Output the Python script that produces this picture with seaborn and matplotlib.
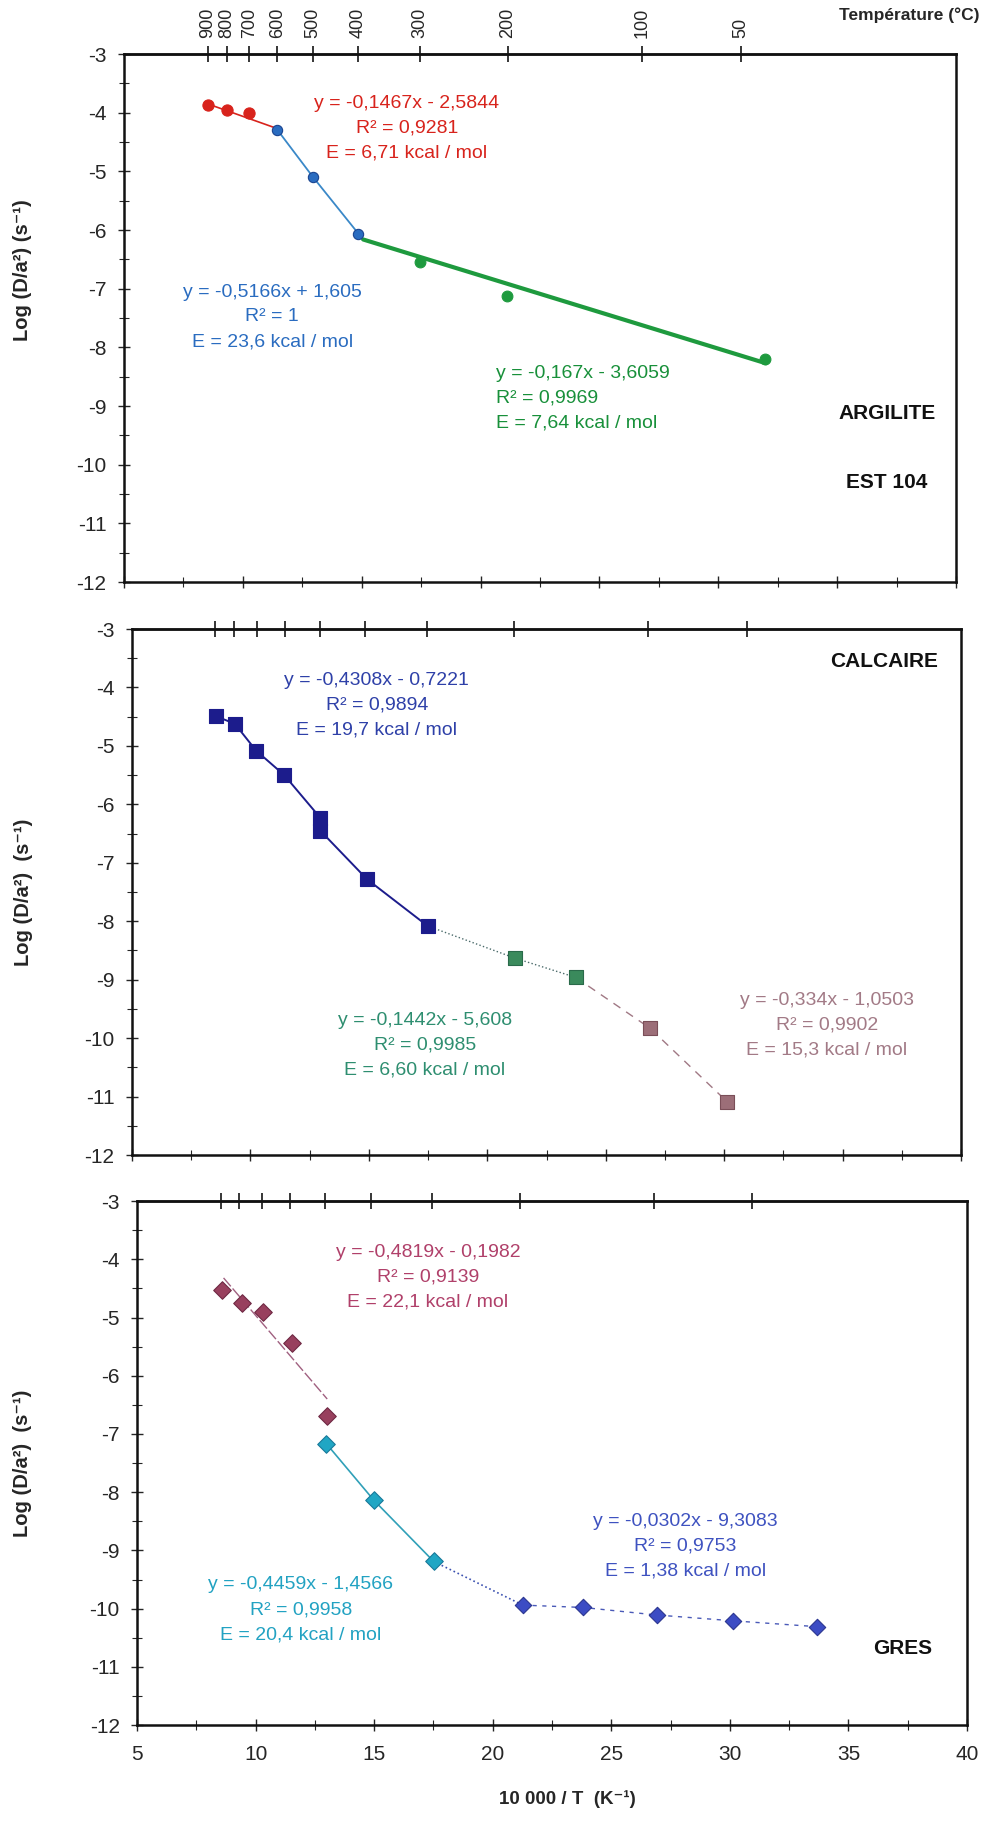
import matplotlib
matplotlib.use('Agg')
import matplotlib.pyplot as plt
from matplotlib.ticker import MultipleLocator
import seaborn as sns

# --- donnees (x = 10000/T en K-1, y = log(D/a2)) ---
temp_c = [900, 800, 700, 600, 500, 400, 300, 200, 100, 50]

# ARGILITE EST 104
arg_red_x = [8.53, 9.32, 10.28]
arg_red_y = [-3.86, -3.96, -4.01]
arg_blue_x = [11.45, 12.94, 14.86]
arg_blue_y = [-4.29, -5.09, -6.06]
arg_green_x = [17.45, 21.13, 31.95]
arg_green_y = [-6.54, -7.12, -8.20]
arg_red_fit_x = [8.53, 11.45]
arg_red_fit_y = [-3.85, -4.27]
arg_green_fit_x = [15.06, 32.0]
arg_green_fit_y = [-6.16, -8.27]

# CALCAIRE
cal_blue_x = [8.53, 9.34, 10.24, 11.43, 12.95, 12.95, 14.92, 17.48]
cal_blue_y = [-4.49, -4.62, -5.08, -5.50, -6.23, -6.45, -7.28, -8.08]
cal_green_x = [21.16, 23.73]
cal_green_y = [-8.63, -8.96]
cal_mauve_x = [26.87, 30.13]
cal_mauve_y = [-9.83, -11.09]

# GRES
gres_mauve_x = [8.57, 9.41, 10.30, 11.52, 13.03]
gres_mauve_y = [-4.53, -4.75, -4.90, -5.44, -6.70]
gres_mauve_fit_x = [8.65, 13.02]
gres_mauve_fit_y = [-4.32, -6.40]
gres_cyan_x = [12.99, 14.99, 17.51]
gres_cyan_y = [-7.17, -8.14, -9.19]
gres_blue_x = [21.27, 23.80, 26.92, 30.15, 33.66]
gres_blue_y = [-9.94, -9.98, -10.11, -10.21, -10.31]

sns.set_style('ticks')
plt.rcParams['font.family'] = ['Liberation Sans', 'DejaVu Sans']
plt.rcParams['axes.unicode_minus'] = False

fig = plt.figure(figsize=(9.87, 18.27), dpi=100)

# positions des trois panneaux (le scan est legerement de travers)
panels = [
    [0.1256, 0.6814, 0.843, 0.289],
    [0.1337, 0.3678, 0.840, 0.2879],
    [0.1388, 0.0558, 0.841, 0.2868],
]
axes = [fig.add_axes(p) for p in panels]
ylabels = ['Log (D/a²) (s⁻¹)', 'Log (D/a²)  (s⁻¹)', 'Log (D/a²)  (s⁻¹)']
ylabel_y = [0.59, 0.5, 0.5]


def line(ax, xs, ys, color, lw=1.2, ls='-'):
    sns.lineplot(x=xs, y=ys, color=color, linewidth=lw, linestyle=ls,
                 sort=False, estimator=None, ax=ax, zorder=2)


def points(ax, xs, ys, color, marker, s, ec=None):
    sns.scatterplot(x=xs, y=ys, color=color, marker=marker, s=s,
                    edgecolor=ec if ec else color, linewidth=0.8, ax=ax, zorder=3)


def note(ax, x, y, lines, color, ha='center'):
    ax.text(x, y, '\n'.join(lines), color=color, ha=ha, va='center',
            fontsize=14, linespacing=1.6)


def k_to_c(x):
    return 10000.0 / x - 273.15


def c_to_k(c):
    return 10000.0 / (c + 273.15)


for i, ax in enumerate(axes):
    ax.set_xlim(5, 40)
    ax.set_ylim(-12, -3)
    ax.yaxis.set_major_locator(MultipleLocator(1))
    ax.yaxis.set_minor_locator(MultipleLocator(0.5))
    ax.xaxis.set_major_locator(MultipleLocator(5))
    ax.xaxis.set_minor_locator(MultipleLocator(2.5))
    ax.tick_params(axis='y', which='major', direction='inout', length=9, width=1,
                   labelsize=15, pad=8)
    ax.tick_params(axis='y', which='minor', direction='inout', length=7, width=0.8)
    ax.tick_params(axis='x', which='major', direction='inout', length=9, width=1,
                   labelsize=15, pad=10)
    ax.tick_params(axis='x', which='minor', direction='inout', length=7, width=0.8)
    for sp in ax.spines.values():
        sp.set_linewidth(1.8)
        sp.set_color('#111111')
    if i < 2:
        ax.tick_params(axis='x', labelbottom=False)
    ax.set_ylabel(ylabels[i], fontsize=14.5, fontweight='bold')
    ax.yaxis.set_label_coords(-0.111 - 0.008 * i, ylabel_y[i])

    sec = ax.secondary_xaxis('top', functions=(k_to_c, c_to_k))
    sec.set_xticks(temp_c)
    sec.tick_params(direction='inout', length=11, width=1.3, labelsize=13, pad=6)
    sec.spines['top'].set_linewidth(1.8)
    if i == 0:
        sec.set_xticklabels([str(t) for t in temp_c], rotation=90)
    else:
        sec.set_xticklabels([])

ax1, ax2, ax3 = axes

# --- ARGILITE ---
red = '#d8231c'
line(ax1, arg_red_fit_x, arg_red_fit_y, red, lw=1.2)
line(ax1, arg_blue_x, arg_blue_y, '#3a88c8', lw=1.3)
line(ax1, arg_green_fit_x, arg_green_fit_y, '#1e9a3e', lw=3.0)
points(ax1, arg_red_x, arg_red_y, red, 'o', 65)
points(ax1, arg_blue_x, arg_blue_y, '#2a6cc0', 'o', 55, ec='#1a4490')
points(ax1, arg_green_x, arg_green_y, '#1e9a3e', 'o', 60)
note(ax1, 16.9, -4.26, ['y = -0,1467x - 2,5844', 'R² = 0,9281',
                        'E = 6,71 kcal / mol'], red)
note(ax1, 11.23, -7.48, ['y = -0,5166x + 1,605', 'R² = 1',
                         'E = 23,6 kcal / mol'], '#2a6cc0')
note(ax1, 20.65, -8.86, ['y = -0,167x - 3,6059', 'R² = 0,9969',
                         'E = 7,64 kcal / mol'], '#18903a', ha='left')
ax1.text(37.1, -9.12, 'ARGILITE', ha='center', va='center', fontsize=15,
         fontweight='bold', color='#111111')
ax1.text(37.1, -10.3, 'EST 104', ha='center', va='center', fontsize=15,
         fontweight='bold', color='#111111')

# --- CALCAIRE ---
navy = '#1c1c8c'
line(ax2, cal_blue_x, cal_blue_y, navy, lw=1.4)
line(ax2, [cal_blue_x[-1]] + cal_green_x, [cal_blue_y[-1]] + cal_green_y,
     '#4a6a6a', lw=1.0, ls=':')
line(ax2, [cal_green_x[-1]] + cal_mauve_x, [cal_green_y[-1]] + cal_mauve_y,
     '#a07884', lw=1.0, ls=(0, (6, 5)))
points(ax2, cal_blue_x, cal_blue_y, navy, 's', 110)
points(ax2, cal_green_x, cal_green_y, '#3a8a5c', 's', 100, ec='#2a6a4a')
points(ax2, cal_mauve_x, cal_mauve_y, '#9c6e78', 's', 90, ec='#7a4e58')
note(ax2, 15.34, -4.30, ['y = -0,4308x - 0,7221', 'R² = 0,9894',
                         'E = 19,7 kcal / mol'], '#2e40a8')
note(ax2, 17.37, -10.12, ['y = -0,1442x - 5,608', 'R² = 0,9985',
                          'E = 6,60 kcal / mol'], '#2e8e70')
note(ax2, 34.34, -9.78, ['y = -0,334x - 1,0503', 'R² = 0,9902',
                         'E = 15,3 kcal / mol'], '#a27a86')
ax2.text(39.02, -3.56, 'CALCAIRE', ha='right', va='center', fontsize=15,
         fontweight='bold', color='#111111')

# --- GRES ---
line(ax3, gres_mauve_fit_x, gres_mauve_fit_y, '#a06080', lw=1.0, ls=(0, (8, 2)))
line(ax3, gres_cyan_x, gres_cyan_y, '#30a0b8', lw=1.2)
line(ax3, [gres_cyan_x[-1], gres_blue_x[0]], [gres_cyan_y[-1], gres_blue_y[0]],
     '#3a50b0', lw=1.2, ls=':')
line(ax3, gres_blue_x, gres_blue_y, '#4a5ab8', lw=1.0, ls=(0, (3, 4)))
points(ax3, gres_mauve_x, gres_mauve_y, '#98405e', 'D', 80, ec='#702a44')
points(ax3, gres_cyan_x, gres_cyan_y, '#20a6c4', 'D', 80, ec='#1a7a9a')
points(ax3, gres_blue_x, gres_blue_y, '#3c4cc4', 'D', 70, ec='#2a3490')
note(ax3, 17.27, -4.31, ['y = -0,4819x - 0,1982', 'R² = 0,9139',
                         'E = 22,1 kcal / mol'], '#b0406a')
note(ax3, 11.9, -10.02, ['y = -0,4459x - 1,4566', 'R² = 0,9958',
                         'E = 20,4 kcal / mol'], '#22a2c2')
note(ax3, 28.11, -8.93, ['y = -0,0302x - 9,3083', 'R² = 0,9753',
                         'E = 1,38 kcal / mol'], '#3e52c0')
ax3.text(37.3, -10.68, 'GRES', ha='center', va='center', fontsize=15,
         fontweight='bold', color='#111111')
ax3.set_xlabel('10 000 / T  (K⁻¹)', fontsize=13.5, fontweight='bold')
ax3.xaxis.set_label_coords(0.518, -0.125)

fig.text(0.992, 0.9915, 'Température (°C)', ha='right', va='center',
         fontsize=12.5, fontweight='bold')

plt.savefig('out.png', dpi=100)
